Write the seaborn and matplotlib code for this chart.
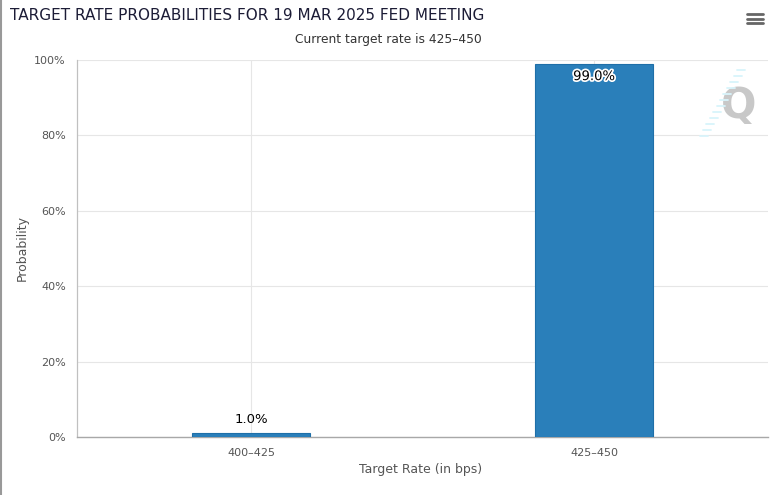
import matplotlib
matplotlib.use("Agg")
import matplotlib.pyplot as plt
import matplotlib.patheffects as pe
from matplotlib.lines import Line2D
import seaborn as sns
import pandas as pd

categories = ["400-425", "425-450"]
probabilities = [1.0, 99.0]
y_ticks = [0, 20, 40, 60, 80, 100]
y_tick_labels = ["0%", "20%", "40%", "60%", "80%", "100%"]
title = "TARGET RATE PROBABILITIES FOR 19 MAR 2025 FED MEETING"
subtitle = "Current target rate is 425\u2013450"

sns.set_theme(style="white")
plt.rcParams['font.family'] = ['DejaVu Sans']

df = pd.DataFrame({"cat": categories, "prob": probabilities})

fig = plt.figure(figsize=(7.76, 4.95), dpi=100)
ax = fig.add_axes([77/776, 58/495, 691/776, 377/495])

sns.barplot(data=df, x="cat", y="prob", color="#2a7fba", width=0.345,
            edgecolor="#1f6fa8", linewidth=0.8, saturation=1, ax=ax, zorder=3)

ax.set_xlim(-0.507, 1.507)
ax.set_ylim(0, 100)
ax.set_yticks(y_ticks)
ax.set_yticklabels(y_tick_labels)
ax.tick_params(axis="y", length=7, color="#e6e6e6", labelsize=8, labelcolor="#555555", pad=1)
ax.tick_params(axis="x", length=7, color="#e6e6e6", labelsize=8, labelcolor="#555555", pad=1)
ax.grid(True, color="#e6e6e6", linewidth=0.8, zorder=0)
ax.set_axisbelow(True)
for s in ["top", "right"]:
    ax.spines[s].set_visible(False)
ax.spines["left"].set_color("#c0c0c0")
ax.spines["left"].set_linewidth(0.9)
ax.spines["bottom"].set_color("#a8a8a8")
ax.spines["bottom"].set_linewidth(1.0)

ax.set_xlabel("Target Rate (in bps)", fontsize=9, color="#555555", va="center")
ax.set_ylabel("Probability", fontsize=9, color="#555555", va="center")
ax.xaxis.set_label_coords((421 - 77) / 691, (437 - 470) / 377)
ax.yaxis.set_label_coords((22 - 77) / 691, (437 - 248) / 377)
ax.set_xticklabels([c.replace("-", "\u2013") for c in categories])

for i, p in enumerate(probabilities):
    lbl = f"{p:.1f}%"
    if p > 50:
        ax.text(i, p - 3.4, lbl, ha="center", va="center", fontsize=9.5, color="black",
                path_effects=[pe.withStroke(linewidth=2.5, foreground="white")], zorder=5)
    else:
        ax.text(i, p + 3.6, lbl, ha="center", va="center", fontsize=9.5, color="black", zorder=5)

fig.text(10/776, 1 - 16/495, title, ha="left", va="center", fontsize=11, color="#1c1c36")
fig.text(388/776, 1 - 40/495, subtitle, ha="center", va="center", fontsize=8.8, color="#333333")

# menu icon
for yy in [14, 18.5, 23]:
    fig.add_artist(Line2D([747/776, 763/776], [1 - yy/495, 1 - yy/495], color="#666666", linewidth=2))

# watermark
fig.text(739/776, 1 - 106/495, "Q", ha="center", va="center", fontsize=30, fontweight="bold",
         color="#c8c8c8", zorder=1)
for k in range(12):
    y0 = 70 + k * 6
    x0 = 745 - k * 3.4
    fig.add_artist(Line2D([(x0 - 8)/776, x0/776], [1 - y0/495, 1 - y0/495], color="#d8f4fb", linewidth=1.3))

# left border
fig.add_artist(Line2D([0.8/776, 0.8/776], [0, 1], color="#999999", linewidth=1.5))

fig.savefig("out.png", dpi=100)
